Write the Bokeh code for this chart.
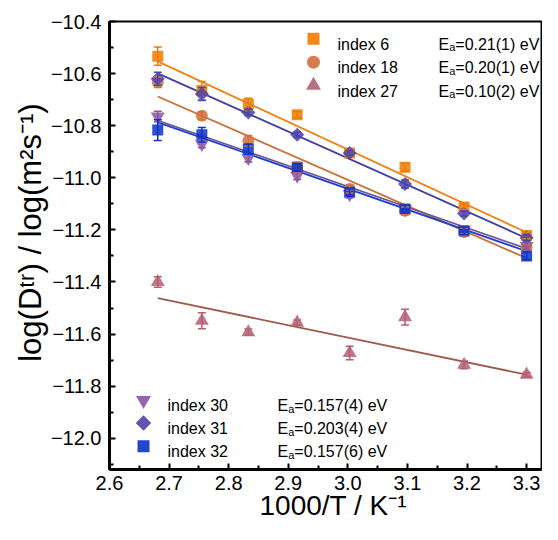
import numpy as np
from bokeh.plotting import figure
from bokeh.models import (ColumnDataSource, Whisker, TeeHead, FixedTicker,
                          CustomJSTickFormatter, Label, Range1d)
from bokeh.embed import file_html
from bokeh.resources import INLINE

# ---------------- data ----------------
inv_T = [2.681, 2.755, 2.833, 2.915, 3.003, 3.096, 3.195, 3.300]

names = ["index 6", "index 18", "index 27", "index 30", "index 31", "index 32"]
ea_text = ["=0.21(1) eV", "=0.20(1) eV", "=0.10(2) eV",
           "=0.157(4) eV", "=0.203(4) eV", "=0.157(6) eV"]

logD_6 = [-10.533, -10.665, -10.717, -10.758, -10.905, -10.960, -11.112, -11.222]
err_6 = [0.035, 0.035, 0.022, 0.012, 0.010, 0.015, 0.010, 0.012]
logD_18 = [-10.633, -10.762, -10.858, -10.960, -11.043, -11.127, -11.208, -11.268]
err_18 = [0.020, 0.015, 0.020, 0.020, 0.015, 0.015, 0.015, 0.012]
logD_27 = [-11.400, -11.549, -11.593, -11.556, -11.673, -11.535, -11.718, -11.756]
err_27 = [0.020, 0.031, 0.012, 0.010, 0.026, 0.030, 0.015, 0.008]
logD_30 = [-10.765, -10.870, -10.924, -10.992, -11.063, -11.120, -11.200, -11.262]
err_30 = [0.020, 0.015, 0.015, 0.015, 0.015, 0.015, 0.015, 0.015]
logD_31 = [-10.620, -10.678, -10.749, -10.835, -10.905, -11.024, -11.137, -11.230]
err_31 = [0.025, 0.025, 0.012, 0.010, 0.010, 0.015, 0.010, 0.012]
logD_32 = [-10.817, -10.835, -10.890, -10.960, -11.056, -11.120, -11.204, -11.300]
err_32 = [0.040, 0.028, 0.020, 0.015, 0.015, 0.015, 0.015, 0.015]

# linear fits (value at first and last 1000/T)
fit_6 = [-10.553, -11.210]
fit_18 = [-10.688, -11.309]
fit_27 = [-11.462, -11.756]
fit_30 = [-10.780, -11.272]
fit_31 = [-10.599, -11.232]
fit_32 = [-10.787, -11.282]

x_ticks = [2.6, 2.7, 2.8, 2.9, 3.0, 3.1, 3.2, 3.3]
x_minor = [2.65, 2.75, 2.85, 2.95, 3.05, 3.15, 3.25]
y_ticks = [-12.0, -11.8, -11.6, -11.4, -11.2, -11.0, -10.8, -10.6, -10.4]
y_minor = [-12.1, -11.9, -11.7, -11.5, -11.3, -11.1, -10.9, -10.7, -10.5]

x_title = "\u00a0\u00a01000/T / K\u207b\u00b9"
y_title = "\u00a0\u00a0\u00a0log(D\u1d57\u02b3) / log(m\u00b2s\u207b\u00b9)"

# ---------------- styles ----------------
series = [
    dict(y=logD_6, e=err_6, fit=fit_6, marker="square", size=11, angle=0.0,
         color="#EF7B00", line="#F08214"),
    dict(y=logD_18, e=err_18, fit=fit_18, marker="circle", size=12, angle=0.0,
         color="#D2703E", line="#C8723A"),
    dict(y=logD_27, e=err_27, fit=fit_27, marker="triangle", size=14, angle=0.0,
         color="#B45F72", line="#9E5A4C"),
    dict(y=logD_30, e=err_30, fit=fit_30, marker="inverted_triangle", size=14, angle=0.0,
         color="#8A55A5", line="#6E5690"),
    dict(y=logD_31, e=err_31, fit=fit_31, marker="square", size=10, angle=np.pi / 4,
         color="#4B44AA", line="#3F3FA0"),
    dict(y=logD_32, e=err_32, fit=fit_32, marker="square", size=11, angle=0.0,
         color="#0A32C8", line="#1E40D0"),
]

W, H = 542, 524
FL, FR, FT, FB = 109, 541, 21, 469          # frame edges in picture pixels
X0, X1, Y0, Y1 = 2.6, 3.325, -12.12, -10.4
PPX = (FR - FL) / (X1 - X0)
PPY = (FB - FT) / (Y1 - Y0)


def dx(px):
    return X0 + (px - FL) / PPX


def dy(py):
    return Y1 - (py - FT) / PPY


FONT = "Liberation Sans"
ADV = {'E': 667, 'a': 556}


def text_w(s, size):
    return sum(ADV.get(c, 556) for c in s) / 1000.0 * size


p = figure(width=W, height=H, output_backend="svg", toolbar_location=None,
           x_range=Range1d(X0, X1), y_range=Range1d(Y0, Y1),
           min_border_left=FL, min_border_right=W - FR,
           min_border_top=FT, min_border_bottom=H - FB)

p.xgrid.visible = False
p.ygrid.visible = False
p.outline_line_color = "black"
p.outline_line_width = 2
p.outline_line_alpha = 1.0
p.background_fill_color = "white"
p.border_fill_color = "white"

p.xaxis.ticker = FixedTicker(ticks=x_ticks, minor_ticks=x_minor)
p.yaxis.ticker = FixedTicker(ticks=y_ticks, minor_ticks=y_minor)
p.xaxis.formatter = CustomJSTickFormatter(code="return tick.toFixed(1);")
p.yaxis.formatter = CustomJSTickFormatter(
    code="return (tick < 0 ? '\u2212' : '') + Math.abs(tick).toFixed(1);")
for ax in (p.xaxis[0], p.yaxis[0]):
    ax.axis_line_width = 3
    ax.axis_line_color = "black"
    ax.major_tick_in = 6
    ax.major_tick_out = 0
    ax.minor_tick_in = 4
    ax.minor_tick_out = 0
    ax.major_tick_line_width = 2
    ax.minor_tick_line_width = 2
    ax.major_tick_line_color = "black"
    ax.minor_tick_line_color = "black"
    ax.major_label_text_font = FONT
    ax.major_label_text_font_size = "20px"
    ax.major_label_text_color = "black"
    ax.axis_label_text_font = FONT
    ax.axis_label_text_font_style = "normal"
    ax.axis_label_text_color = "black"
p.yaxis.axis_label_standoff = 0
p.xaxis.axis_label_standoff = -3
p.yaxis.major_label_standoff = 8
p.xaxis.major_label_standoff = 6
p.xaxis.axis_label = x_title
p.yaxis.axis_label = y_title
p.xaxis.axis_label_text_font_size = "28px"
p.yaxis.axis_label_text_font_size = "31px"

# ---------------- fit lines ----------------
for s in series:
    p.line(x=[inv_T[0], inv_T[-1]], y=s["fit"], line_color=s["line"], line_width=1.8)

# ---------------- points + error bars ----------------
for s in series:
    up = [v + e for v, e in zip(s["y"], s["e"])]
    lo = [v - e for v, e in zip(s["y"], s["e"])]
    src = ColumnDataSource(dict(x=inv_T, y=s["y"], upper=up, lower=lo))
    p.scatter(x="x", y="y", source=src, marker=s["marker"], size=s["size"],
              angle=s["angle"], fill_color=s["color"], fill_alpha=0.85,
              line_color=None)
    wk = Whisker(source=src, base="x", upper="upper", lower="lower",
                 dimension="height", line_color=s["color"], line_width=1.5,
                 level="glyph",
                 upper_head=TeeHead(size=8, line_color=s["color"], line_width=1.5),
                 lower_head=TeeHead(size=8, line_color=s["color"], line_width=1.5))
    p.add_layout(wk)


def lab(px, py, text, size):
    p.add_layout(Label(x=dx(px), y=dy(py), text=text, text_font=FONT,
                       text_font_size=f"{size}px", text_color="black",
                       text_align="left", text_baseline="alphabetic"))


# ---------------- legends (inside the frame) ----------------
legend_rows = [
    (0, 313, 337, 438, 38.3),
    (1, 313, 337, 438, 61.7),
    (2, 313, 337, 438, 85.0),
    (3, 143, 167, 277, 399.9),
    (4, 143, 167, 277, 422.5),
    (5, 143, 167, 277, 445.8),
]
for i, mx, tx, ex, ry in legend_rows:
    s = series[i]
    p.scatter(x=[dx(mx)], y=[dy(ry)], marker=s["marker"], size=s["size"] + 1,
              angle=s["angle"], fill_color=s["color"], fill_alpha=0.9, line_color=None)
    lab(tx, ry + 5.5, names[i], 16)
    lab(ex, ry + 5.5, "E", 16)
    lab(ex + text_w("E", 16), ry + 8.5, "a", 11)
    lab(ex + text_w("E", 16) + text_w("a", 11), ry + 5.5, ea_text[i], 16)

open("out.html", "w").write(file_html(p, INLINE))
